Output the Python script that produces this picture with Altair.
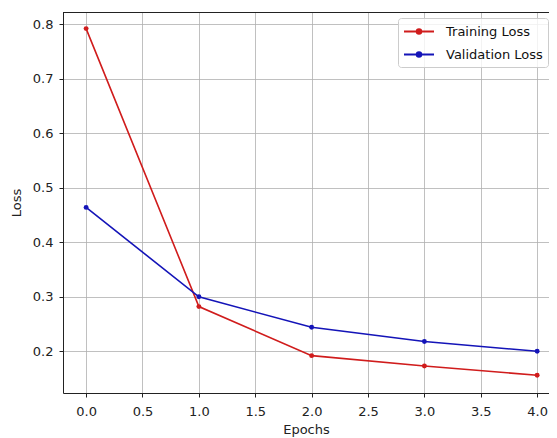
import altair as alt
import pandas as pd

epochs = [0, 1, 2, 3, 4]
train_loss = [0.792, 0.282, 0.192, 0.173, 0.156]
val_loss = [0.464, 0.300, 0.244, 0.218, 0.200]
series_names = ["Training Loss", "Validation Loss"]
series_colors = ["#d01c1c", "#1414b8"]
x_ticks = [0.0, 0.5, 1.0, 1.5, 2.0, 2.5, 3.0, 3.5, 4.0]
y_ticks = [0.2, 0.3, 0.4, 0.5, 0.6, 0.7, 0.8]

rows = []
for e, t, v in zip(epochs, train_loss, val_loss):
    rows.append({"Epochs": e, "Loss": t, "Series": series_names[0]})
    rows.append({"Epochs": e, "Loss": v, "Series": series_names[1]})
df = pd.DataFrame(rows)

FONT = "DejaVu Sans"
W, H = 486, 381

# line with marker: line from -1 to 3, dot at 1 (unit = half of sqrt(size))
legend_symbol = "M-1,0L3,0M0.7,0a0.3,0.3 0 1,0 0.6,0a0.3,0.3 0 1,0 -0.6,0Z"

scale = alt.Scale(domain=series_names, range=series_colors)
color = alt.Color(
    "Series:N",
    scale=scale,
    legend=alt.Legend(
        title=None,
        orient="none",
        legendX=335,
        legendY=6,
        symbolType=legend_symbol,
        symbolSize=225,
        symbolStrokeWidth=2,
        labelFontSize=13,
        labelFont=FONT,
        labelColor="#111",
        labelOffset=26,
        rowPadding=7,
        padding=5,
        fillColor="rgba(255,255,255,0.8)",
        strokeColor="#cccccc",
        cornerRadius=3,
        offset=0,
    ),
)

x = alt.X(
    "Epochs:Q",
    scale=alt.Scale(domain=[-0.205, 4.105], nice=False, zero=False),
    axis=alt.Axis(values=x_ticks, format=".1f", title="Epochs"),
)
y = alt.Y(
    "Loss:Q",
    scale=alt.Scale(domain=[0.1235, 0.8225], nice=False, zero=False),
    axis=alt.Axis(values=y_ticks, format=".1f", title="Loss"),
)

line = alt.Chart(df).mark_line(strokeWidth=1.6).encode(x=x, y=y, color=color)
pts = alt.Chart(df).mark_circle(size=24, opacity=1).encode(
    x=x, y=y, color=alt.Color("Series:N", scale=scale, legend=None)
)
top_spine = alt.Chart(df).mark_rule(color="#222", strokeWidth=0.9).encode(
    x=alt.value(0), x2=alt.value(W), y=alt.value(0.5)
)

chart = (
    alt.layer(line, pts, top_spine)
    .properties(
        width=W,
        height=H,
        autosize=alt.AutoSizeParams(type="none"),
        padding={"left": 55, "top": 4, "right": 0, "bottom": 44},
    )
    .configure_view(stroke=None)
    .configure_axis(
        grid=True,
        gridColor="#b0b0b0",
        gridWidth=0.8,
        domain=True,
        domainColor="#222",
        domainWidth=1,
        tickColor="#222",
        tickSize=4,
        tickWidth=1,
        labelFont=FONT,
        labelFontSize=13,
        labelColor="#222",
        titleFont=FONT,
        titleFontSize=13,
        titleFontWeight="normal",
        titleColor="#222",
    )
    .configure_axisX(labelPadding=8, titlePadding=5, labelFlush=False)
    .configure_axisY(labelPadding=6, titlePadding=9, labelFlush=False)
)

chart.save("out.html", embed_options={"renderer": "svg", "actions": False})
